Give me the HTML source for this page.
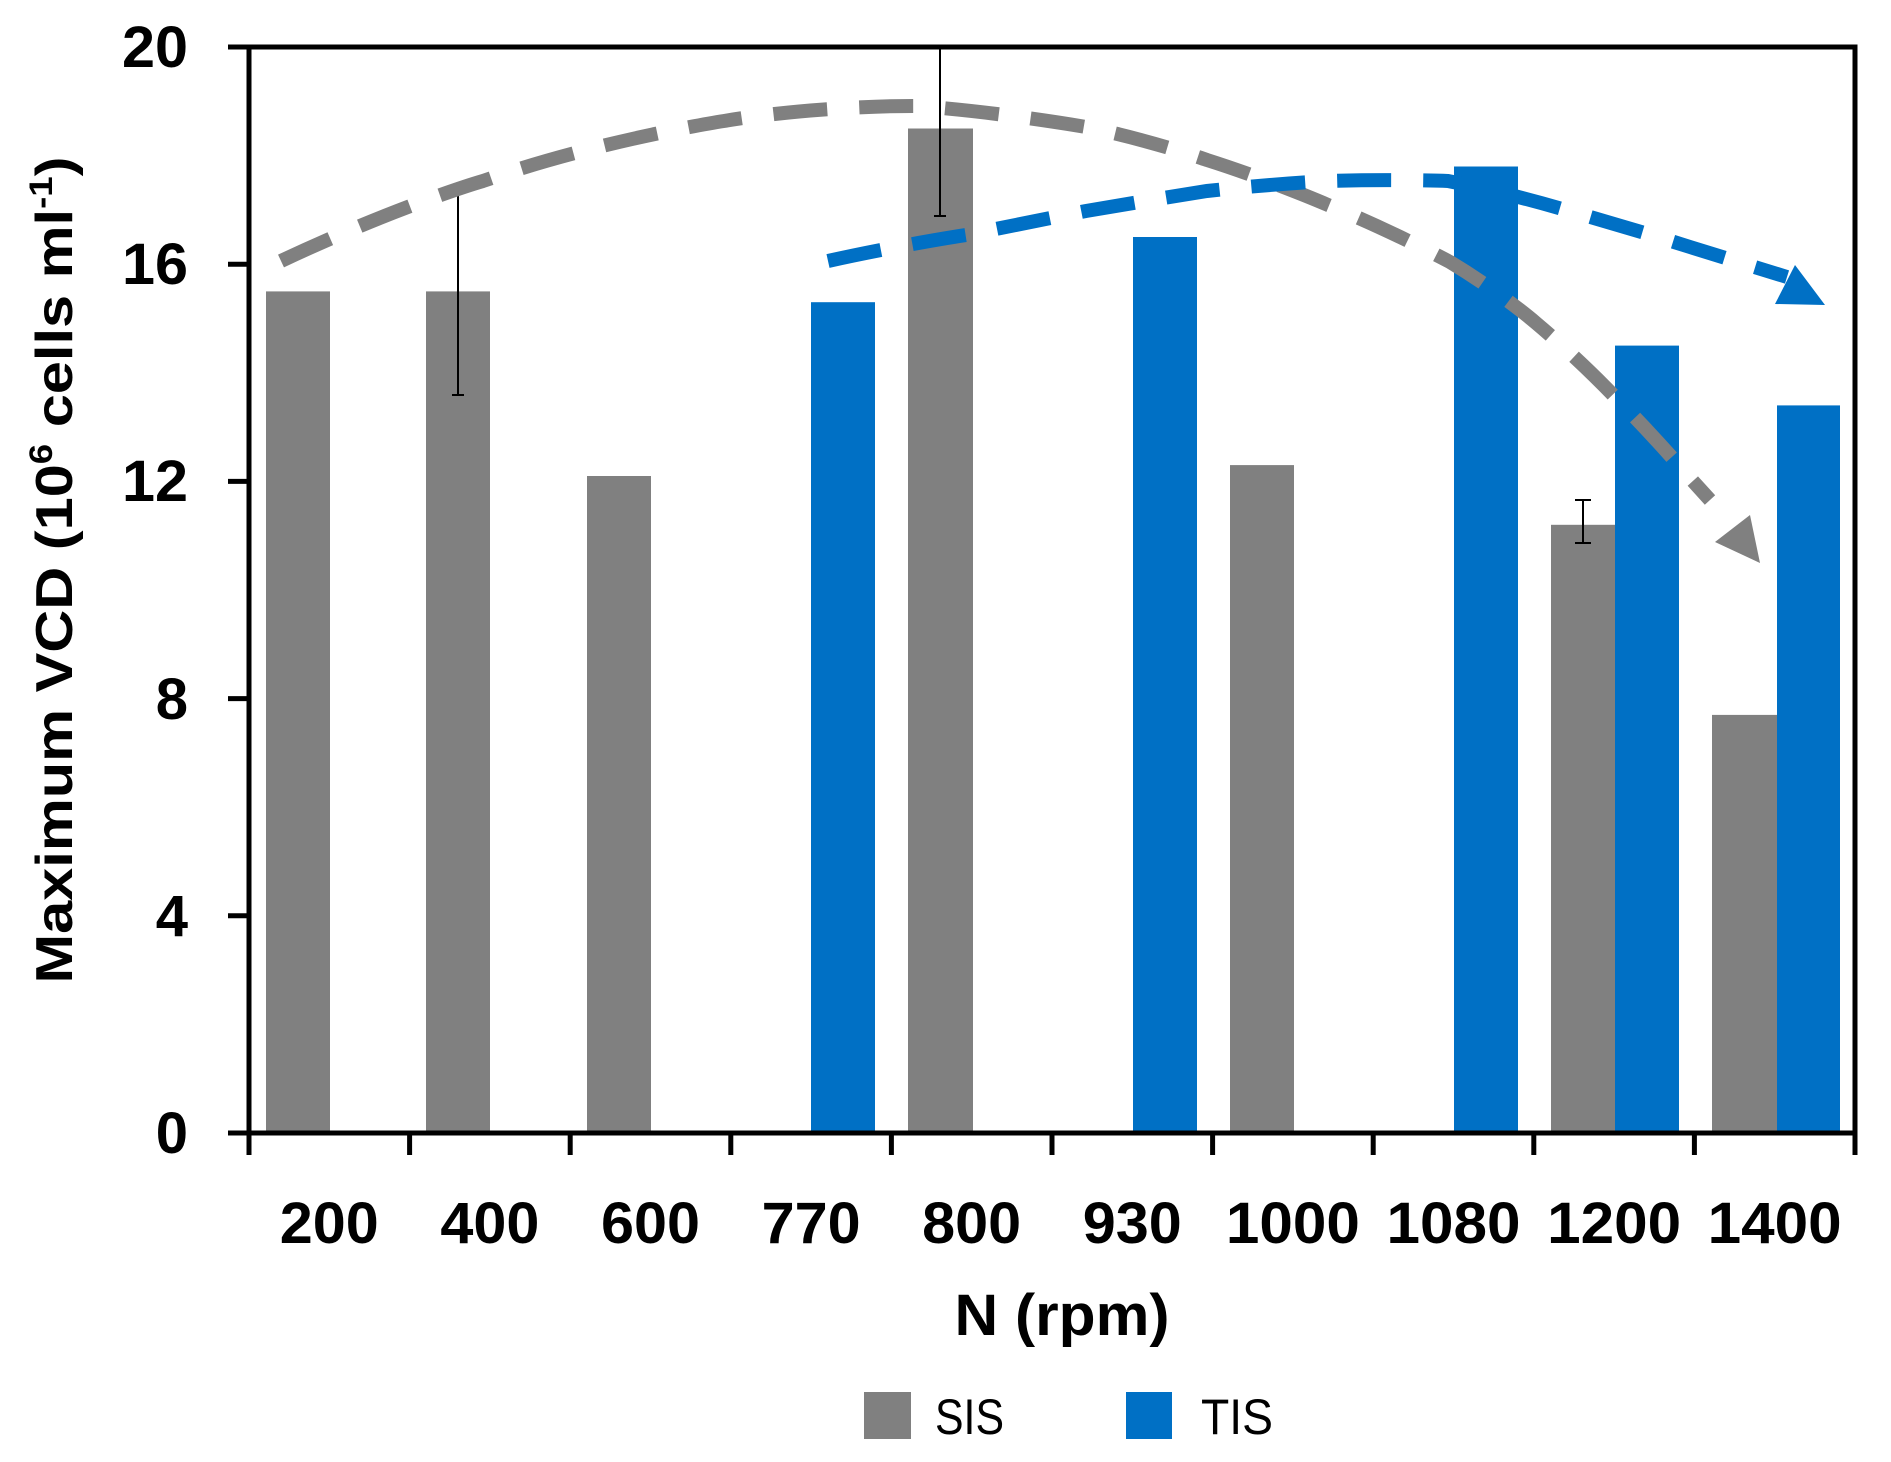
<!DOCTYPE html>
<html><head><meta charset="utf-8">
<style>html,body{margin:0;padding:0;background:#fff;}svg{display:block;}</style>
</head><body>
<svg width="1891" height="1462" viewBox="0 0 1891 1462" xmlns="http://www.w3.org/2000/svg" font-family="Liberation Sans, sans-serif">
<rect width="1891" height="1462" fill="#fff"/>
<g fill="#808080">
<rect x="266" y="291.4" width="64" height="841.6"/>
<rect x="426" y="291.4" width="64" height="841.6"/>
<rect x="587" y="476" width="64" height="657"/>
<rect x="908" y="128.5" width="65" height="1004.5"/>
<rect x="1230" y="465.1" width="64" height="667.9"/>
<rect x="1551" y="524.8" width="64" height="608.2"/>
<rect x="1712" y="714.9" width="65" height="418.1"/>
</g>
<g fill="#0070c5">
<rect x="811" y="302.2" width="64" height="830.8"/>
<rect x="1133" y="237" width="64" height="896"/>
<rect x="1454" y="166.5" width="64" height="966.5"/>
<rect x="1615" y="345.6" width="64" height="787.4"/>
<rect x="1777" y="405.4" width="63" height="727.6"/>
</g>
<g stroke="#000" stroke-width="2">
<line x1="458" y1="188" x2="458" y2="395"/><line x1="452" y1="188" x2="464" y2="188"/><line x1="452" y1="395" x2="464" y2="395"/>
<line x1="940" y1="47" x2="940" y2="216"/><line x1="934" y1="216" x2="946" y2="216"/>
<line x1="1583" y1="500" x2="1583" y2="543"/><line x1="1575" y1="500" x2="1591" y2="500"/><line x1="1575" y1="543" x2="1591" y2="543"/>
</g>
<path d="M281,261 C400,205 483,181 483,181 C600,140 724,121 724,121 C820,105 917,106 917,106 C1000,112 1086,127 1086,127 C1150,140 1207,160 1207,160 C1270,180 1328,205 1328,205 C1390,230 1450,262 1450,262 C1500,292 1536,323 1536,323 C1580,360 1615,397 1615,397 C1655,437 1690,478 1690,478 L1710,500" fill="none" stroke="#808080" stroke-width="14" stroke-dasharray="54,32"/>
<polygon points="1715,542 1750,515 1760,563" fill="#808080"/>
<path d="M828,261 C900,245 966,235 966,235 C1030,222 1086,211 1086,211 C1150,200 1207,191 1207,191 C1270,184 1328,181 1328,181 C1390,179 1448,181 1448,181 C1510,193 1569,211 1569,211 C1630,228 1690,247 1690,247 L1787,277" fill="none" stroke="#0070c5" stroke-width="14" stroke-dasharray="54,32"/>
<polygon points="1795,265 1775,304 1825,305" fill="#0070c5"/>
<rect x="249" y="47" width="1606" height="1086" fill="none" stroke="#000" stroke-width="5"/>
<g stroke="#000" stroke-width="5">
<line x1="228" y1="47" x2="249" y2="47"/>
<line x1="228" y1="264.2" x2="249" y2="264.2"/>
<line x1="228" y1="481.4" x2="249" y2="481.4"/>
<line x1="228" y1="698.6" x2="249" y2="698.6"/>
<line x1="228" y1="915.8" x2="249" y2="915.8"/>
<line x1="228" y1="1133" x2="249" y2="1133"/>
<line x1="249" y1="1133" x2="249" y2="1155"/>
<line x1="409.6" y1="1133" x2="409.6" y2="1155"/>
<line x1="570.2" y1="1133" x2="570.2" y2="1155"/>
<line x1="730.8" y1="1133" x2="730.8" y2="1155"/>
<line x1="891.4" y1="1133" x2="891.4" y2="1155"/>
<line x1="1052" y1="1133" x2="1052" y2="1155"/>
<line x1="1212.6" y1="1133" x2="1212.6" y2="1155"/>
<line x1="1373.2" y1="1133" x2="1373.2" y2="1155"/>
<line x1="1533.8" y1="1133" x2="1533.8" y2="1155"/>
<line x1="1694.4" y1="1133" x2="1694.4" y2="1155"/>
<line x1="1855" y1="1133" x2="1855" y2="1155"/>
</g>
<g font-size="58" font-weight="bold" text-anchor="end" fill="#000">
<text x="188" y="67" textLength="66" lengthAdjust="spacingAndGlyphs">20</text>
<text x="188" y="284" textLength="66" lengthAdjust="spacingAndGlyphs">16</text>
<text x="188" y="501" textLength="66" lengthAdjust="spacingAndGlyphs">12</text>
<text x="188" y="719">8</text>
<text x="188" y="936">4</text>
<text x="188" y="1153">0</text>
</g>
<g font-size="58" font-weight="bold" text-anchor="middle" fill="#000">
<text x="329.3" y="1243" textLength="99" lengthAdjust="spacingAndGlyphs">200</text>
<text x="489.9" y="1243" textLength="99" lengthAdjust="spacingAndGlyphs">400</text>
<text x="650.5" y="1243" textLength="99" lengthAdjust="spacingAndGlyphs">600</text>
<text x="811.1" y="1243" textLength="99" lengthAdjust="spacingAndGlyphs">770</text>
<text x="971.7" y="1243" textLength="99" lengthAdjust="spacingAndGlyphs">800</text>
<text x="1132.3" y="1243" textLength="99" lengthAdjust="spacingAndGlyphs">930</text>
<text x="1292.9" y="1243" textLength="134" lengthAdjust="spacingAndGlyphs">1000</text>
<text x="1453.5" y="1243" textLength="134" lengthAdjust="spacingAndGlyphs">1080</text>
<text x="1614.1" y="1243" textLength="134" lengthAdjust="spacingAndGlyphs">1200</text>
<text x="1774.7" y="1243" textLength="134" lengthAdjust="spacingAndGlyphs">1400</text>
</g>
<text x="1062" y="1335" font-size="58" font-weight="bold" text-anchor="middle" textLength="215" lengthAdjust="spacingAndGlyphs">N (rpm)</text>
<text transform="translate(72,570) rotate(-90)" font-size="52" font-weight="bold" text-anchor="middle" textLength="827" lengthAdjust="spacingAndGlyphs">Maximum VCD (10<tspan font-size="32" dy="-20">6</tspan><tspan dy="20"> cells ml</tspan><tspan font-size="32" dy="-20">-1</tspan><tspan dy="20">)</tspan></text>
<rect x="864" y="1392" width="47" height="47" fill="#808080"/>
<text x="935" y="1434" font-size="50" textLength="69" lengthAdjust="spacingAndGlyphs">SIS</text>
<rect x="1126" y="1392" width="46" height="47" fill="#0070c5"/>
<text x="1201" y="1434" font-size="50" textLength="72" lengthAdjust="spacingAndGlyphs">TIS</text>
</svg>
</body></html>
